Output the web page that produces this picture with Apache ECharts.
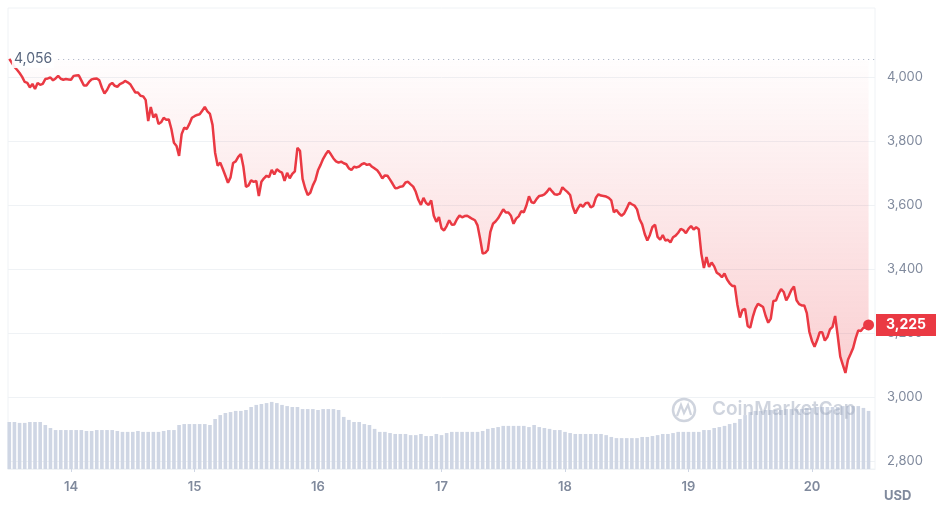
<!DOCTYPE html>
<html>
<head>
<meta charset="utf-8">
<script src="https://cdn.jsdelivr.net/npm/echarts@6.0.0/dist/echarts.min.js"></script>
<style>
  html, body { margin: 0; padding: 0; background: #fff; }
  #chart { width: 942px; height: 520px; }
</style>
</head>
<body>
<div id="chart"></div>
<script>
// price every 30 min, one array per day (13th from 12:00, 20th up to 11:00)
const price13 = [4056, 4044, 4031, 4022, 4012, 4000, 3984, 3981, 3967, 3978, 3962, 3981,
  3975, 3978, 3993, 3995, 3998, 3989, 3995, 4003, 3994, 3991, 3993, 3992]
const price14 = [3991, 4003, 4004, 4005, 3989, 3973, 3973, 3984, 3992, 3994, 3995, 3989,
  3966, 3948, 3959, 3975, 3981, 3972, 3969, 3977, 3981, 3987, 3983, 3977,
  3964, 3951, 3951, 3941, 3939, 3928, 3862, 3906, 3873, 3884, 3853, 3858,
  3872, 3866, 3867, 3837, 3794, 3784, 3753, 3821, 3841, 3837, 3853, 3872]
const price15 = [3877, 3881, 3883, 3894, 3906, 3892, 3884, 3850, 3763, 3722, 3732, 3712,
  3691, 3669, 3686, 3731, 3736, 3750, 3759, 3719, 3656, 3661, 3677, 3672,
  3675, 3628, 3672, 3683, 3691, 3687, 3709, 3695, 3711, 3705, 3701, 3675,
  3700, 3683, 3697, 3705, 3778, 3769, 3681, 3652, 3631, 3638, 3661, 3678]
const price16 = [3708, 3725, 3744, 3758, 3769, 3758, 3745, 3736, 3732, 3735, 3730, 3727,
  3714, 3709, 3719, 3717, 3720, 3727, 3730, 3725, 3727, 3719, 3714, 3708,
  3697, 3683, 3692, 3691, 3679, 3666, 3652, 3653, 3657, 3658, 3670, 3672,
  3664, 3657, 3641, 3616, 3600, 3622, 3606, 3600, 3614, 3566, 3547, 3562]
const price17 = [3527, 3520, 3534, 3552, 3538, 3539, 3555, 3567, 3561, 3565, 3566, 3561,
  3556, 3552, 3536, 3495, 3448, 3450, 3459, 3516, 3541, 3548, 3558, 3572,
  3586, 3576, 3576, 3566, 3541, 3557, 3564, 3580, 3577, 3598, 3627, 3608,
  3606, 3619, 3628, 3629, 3633, 3641, 3652, 3642, 3633, 3632, 3635, 3655]
const price18 = [3647, 3640, 3631, 3595, 3573, 3589, 3601, 3594, 3605, 3607, 3592, 3597,
  3622, 3633, 3629, 3628, 3626, 3622, 3614, 3577, 3584, 3573, 3566, 3573,
  3589, 3607, 3602, 3598, 3586, 3555, 3539, 3509, 3489, 3506, 3531, 3538,
  3500, 3491, 3506, 3489, 3491, 3483, 3499, 3504, 3513, 3525, 3521, 3512]
const price19 = [3525, 3534, 3523, 3530, 3524, 3447, 3403, 3437, 3406, 3420, 3408, 3388,
  3383, 3374, 3386, 3367, 3355, 3347, 3347, 3289, 3248, 3272, 3275, 3222,
  3216, 3250, 3276, 3291, 3286, 3281, 3253, 3232, 3245, 3300, 3301, 3322,
  3337, 3328, 3302, 3316, 3334, 3345, 3302, 3290, 3286, 3286, 3262, 3203]
const price20 = [3175, 3157, 3177, 3202, 3202, 3176, 3187, 3211, 3219, 3253, 3192, 3126,
  3100, 3075, 3116, 3134, 3153, 3184, 3208, 3206, 3216, 3217, 3225]

// hourly volume (USD bn), same days
const volume13 = [20.4, 20.4, 20.0, 20.0, 20.4, 20.4, 20.4, 19.1, 17.8, 16.9, 16.9, 16.9]
const volume14 = [16.9, 16.9, 16.9, 16.5, 16.5, 16.9, 16.9, 16.9, 16.9, 16.5, 16.1, 16.1,
  16.1, 16.5, 16.1, 16.1, 16.1, 16.1, 16.5, 16.9, 16.9, 19.1, 19.5, 19.5]
const volume15 = [19.5, 19.5, 19.5, 19.1, 21.7, 23.4, 24.3, 24.7, 25.2, 25.2, 25.6, 26.9,
  27.8, 28.2, 28.6, 29.1, 28.6, 27.8, 27.3, 26.9, 26.9, 26.0, 26.0, 26.0]
const volume16 = [25.6, 26.0, 26.0, 26.0, 25.6, 22.6, 21.3, 20.4, 20.4, 19.5, 19.1, 17.4,
  16.1, 16.1, 15.6, 15.2, 15.2, 15.2, 14.7, 14.7, 15.2, 14.3, 14.3, 15.2]
const volume17 = [14.7, 15.6, 16.1, 16.1, 16.1, 16.1, 16.1, 16.1, 16.5, 17.4, 17.8, 18.2,
  18.7, 18.7, 18.7, 18.7, 18.7, 18.2, 19.1, 18.2, 17.8, 17.4, 16.9, 16.9]
const volume18 = [16.1, 15.6, 15.2, 15.2, 15.2, 15.2, 15.2, 15.2, 14.7, 13.9, 13.4, 13.4,
  13.4, 13.4, 13.4, 13.9, 13.9, 14.3, 14.7, 15.2, 15.2, 15.6, 16.1, 16.1]
const volume19 = [16.1, 16.1, 16.1, 16.9, 16.9, 17.8, 18.2, 18.7, 19.5, 20.0, 21.7, 23.4,
  24.7, 25.2, 25.2, 25.6, 25.6, 25.6, 25.6, 26.0, 26.0, 26.0, 26.0, 26.5]
const volume20 = [26.5, 26.9, 26.9, 26.9, 26.9, 26.9, 27.3, 27.3, 27.3, 27.3, 26.5, 25.2]

const priceTicks = [2800, 3000, 3200, 3400, 3600, 3800, 4000]
const dayLabels = ['14', '15', '16', '17', '18', '19', '20']

const HALF_HOUR = 30 * 60 * 1000
const HOUR = 2 * HALF_HOUR
const startTime = new Date(2024, 2, 13, 12, 0).getTime()

const prices = [].concat(price13, price14, price15, price16, price17, price18, price19, price20)
const volumes = [].concat(volume13, volume14, volume15, volume16, volume17, volume18, volume19, volume20)
const priceData = prices.map((v, i) => [startTime + i * HALF_HOUR, v])
const volumeData = volumes.map((v, i) => [startTime + i * HOUR, v])
const dayTicks = dayLabels.map(d => new Date(2024, 2, +d).getTime())

const lastPoint = priceData[priceData.length - 1]
const highPrice = Math.max(...prices)
const xMin = startTime - HOUR / 4
const xMax = lastPoint[0] + HOUR * 1.25
const fmt = v => Number(v).toLocaleString('en-US')

const red = '#ea3943'
const grey = '#808a9d'
const font = 'Inter'

const option = {
  animation: false,
  textStyle: { fontFamily: font },
  grid: {
    left: 8,
    right: 67,
    top: 8,
    bottom: 51,
    show: true,
    borderColor: '#eff2f5',
    borderWidth: 1,
  },
  // timestamps on a value axis so the day ticks can be listed exactly
  xAxis: {
    type: 'value',
    min: xMin,
    max: xMax,
    axisLine: { lineStyle: { color: '#eff2f5' } },
    axisTick: {
      show: true,
      length: 3,
      customValues: dayTicks,
      lineStyle: { color: '#cfd6e4' },
    },
    axisLabel: {
      customValues: dayTicks,
      formatter: v => String(new Date(v).getDate()),
      color: grey,
      fontSize: 13,
      fontWeight: 600,
      margin: 12,
    },
    splitLine: { show: false },
  },
  yAxis: [
    {
      type: 'value',
      position: 'right',
      min: 2775,
      max: 4215,
      axisLine: { show: false },
      axisTick: { show: false, customValues: priceTicks },
      axisLabel: {
        customValues: priceTicks,
        formatter: fmt,
        color: grey,
        fontSize: 13,
        margin: 12,
      },
      splitLine: { lineStyle: { color: '#eff2f5' } },
    },
    {
      type: 'value',
      min: 0,
      max: 200,
      show: false,
      splitLine: { show: false },
    },
  ],
  graphic: [
    {
      type: 'circle',
      z: 100,
      shape: { cx: 684, cy: 410, r: 11 },
      style: { fill: 'none', stroke: 'rgba(160,170,190,0.5)', lineWidth: 2.5 },
    },
    {
      type: 'polyline',
      z: 100,
      shape: { points: [[677, 416], [681, 405], [684, 413], [688, 405], [691, 415]] },
      style: { fill: 'none', stroke: 'rgba(160,170,190,0.5)', lineWidth: 2.2 },
    },
    {
      type: 'text',
      z: 100,
      left: 712,
      top: 400,
      style: { text: 'CoinMarketCap', font: '600 19px Inter', fill: 'rgba(160,170,190,0.5)' },
    },
    {
      type: 'text',
      left: 884,
      top: 490,
      style: { text: 'USD', font: 'bold 13px Inter', fill: grey },
    },
  ],
  series: [
    {
      name: 'Volume',
      type: 'bar',
      yAxisIndex: 1,
      data: volumeData,
      barWidth: 3.6,
      itemStyle: { color: '#cfd6e4' },
      silent: true,
      z: 1,
    },
    {
      name: 'Price',
      type: 'line',
      data: priceData,
      showSymbol: false,
      z: 3,
      lineStyle: { color: red, width: 2.5 },
      areaStyle: {
        origin: prices[0],
        color: new echarts.graphic.LinearGradient(0, 0, 0, 1, [
          { offset: 0, color: 'rgba(234,57,67,0.01)' },
          { offset: 1, color: 'rgba(234,57,67,0.34)' },
        ]),
      },
      markLine: {
        silent: true,
        symbol: ['none', 'none'],
        animation: false,
        z: 5,
        data: [
          [
            {
              coord: [new Date(2024, 2, 13, 21, 30).getTime(), highPrice],
              lineStyle: { color: '#a6b0c3', width: 1, type: [1, 4] },
              label: {
                show: true,
                position: 'start',
                distance: 4,
                formatter: () => fmt(highPrice),
                color: '#58667e',
                fontSize: 14,
                backgroundColor: 'rgba(255,255,255,0.9)',
                padding: [2, 2],
              },
            },
            { coord: [xMax, highPrice] },
          ],
          {
            yAxis: lastPoint[1],
            lineStyle: { color: 'rgba(0,0,0,0)', width: 0 },
            label: {
              show: true,
              position: 'end',
              distance: 1,
              formatter: () => fmt(lastPoint[1]),
              backgroundColor: red,
              color: '#fff',
              fontSize: 14,
              fontWeight: 'bold',
              lineHeight: 14,
              padding: [4, 10],
            },
          },
        ],
      },
    },
    {
      name: 'Last',
      type: 'scatter',
      data: [lastPoint],
      symbolSize: 11,
      itemStyle: { color: red, opacity: 1 },
      z: 4,
    },
  ],
}

const myChart = echarts.init(document.getElementById('chart'))
myChart.setOption(option)
window.addEventListener('resize', () => myChart.resize())
</script>
</body>
</html>
